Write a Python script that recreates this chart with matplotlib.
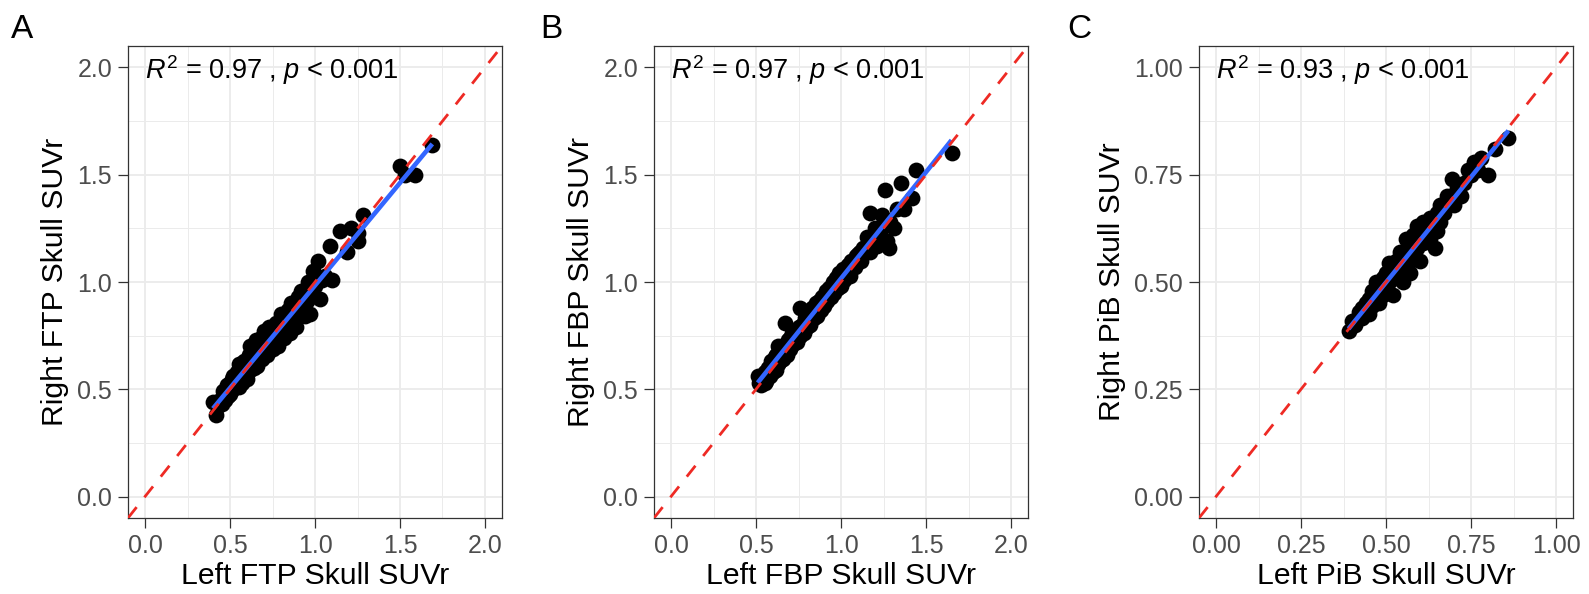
import numpy as np
import matplotlib
matplotlib.use("Agg")
import matplotlib.pyplot as plt

plt.rcParams['font.family'] = ['Liberation Sans', 'DejaVu Sans']
plt.rcParams['mathtext.fontset'] = 'custom'
plt.rcParams['mathtext.rm'] = 'Liberation Sans'
plt.rcParams['mathtext.it'] = 'Liberation Sans:italic'

# panel A: FTP
ftp_left = [0.40, 0.42, 0.43, 0.44, 0.45, 0.46, 0.47, 0.48, 0.48, 0.49, 0.50, 0.50,
            0.51, 0.52, 0.52, 0.53, 0.54, 0.55, 0.55, 0.56, 0.57, 0.57, 0.58, 0.59,
            0.60, 0.60, 0.61, 0.62, 0.62, 0.63, 0.64, 0.64, 0.65, 0.66, 0.66, 0.67,
            0.68, 0.68, 0.69, 0.70, 0.70, 0.71, 0.72, 0.72, 0.73, 0.74, 0.74, 0.75,
            0.76, 0.76, 0.77, 0.78, 0.78, 0.79, 0.80, 0.80, 0.81, 0.82, 0.82, 0.83,
            0.84, 0.85, 0.85, 0.86, 0.87, 0.88, 0.89, 0.90, 0.90, 0.91, 0.92, 0.93,
            0.94, 0.95, 0.96, 0.97, 0.98, 0.99, 1.00, 1.02, 1.03, 1.04, 1.06, 1.09,
            1.10, 1.15, 1.19, 1.21, 1.25, 1.25, 1.28, 1.50, 1.53, 1.59, 1.69,
            0.46, 0.49, 0.51, 0.53, 0.56, 0.58, 0.59, 0.61, 0.63, 0.65, 0.67, 0.69,
            0.71, 0.73, 0.75, 0.77, 0.79, 0.81, 0.83, 0.84, 0.86, 0.88, 0.89, 0.91,
            0.93, 0.95, 0.97, 0.58, 0.62, 0.66, 0.70, 0.74, 0.78, 0.82]
ftp_right = [0.44, 0.38, 0.42, 0.45, 0.43, 0.49, 0.45, 0.52, 0.47, 0.50, 0.53, 0.48,
             0.55, 0.50, 0.56, 0.52, 0.58, 0.51, 0.62, 0.55, 0.60, 0.53, 0.63, 0.57,
             0.62, 0.55, 0.66, 0.59, 0.70, 0.63, 0.68, 0.60, 0.73, 0.65, 0.61, 0.70,
             0.66, 0.74, 0.64, 0.71, 0.77, 0.68, 0.73, 0.66, 0.79, 0.71, 0.75, 0.69,
             0.78, 0.73, 0.81, 0.74, 0.70, 0.80, 0.76, 0.85, 0.79, 0.74, 0.83, 0.78,
             0.87, 0.81, 0.76, 0.90, 0.83, 0.86, 0.79, 0.93, 0.85, 0.88, 0.96, 0.90,
             0.84, 0.94, 1.00, 0.85, 0.95, 1.05, 0.98, 1.10, 0.92, 1.01, 1.03, 1.17,
             1.01, 1.24, 1.14, 1.25, 1.19, 1.23, 1.31, 1.54, 1.50, 1.50, 1.64,
             0.46, 0.47, 0.52, 0.55, 0.58, 0.60, 0.61, 0.62, 0.66, 0.68, 0.64, 0.67,
             0.72, 0.70, 0.74, 0.76, 0.77, 0.82, 0.80, 0.81, 0.85, 0.82, 0.88, 0.86,
             0.89, 0.91, 0.93, 0.59, 0.64, 0.69, 0.73, 0.76, 0.79, 0.78]

# panel B: FBP
fbp_left = [0.51, 0.52, 0.53, 0.54, 0.55, 0.56, 0.57, 0.58, 0.59, 0.60, 0.61, 0.62,
            0.62, 0.63, 0.64, 0.65, 0.66, 0.67, 0.67, 0.68, 0.69, 0.70, 0.71, 0.72,
            0.73, 0.74, 0.75, 0.76, 0.76, 0.77, 0.78, 0.79, 0.80, 0.81, 0.82, 0.83,
            0.84, 0.85, 0.86, 0.87, 0.88, 0.89, 0.90, 0.91, 0.92, 0.93, 0.94, 0.95,
            0.96, 0.97, 0.98, 0.99, 1.00, 1.01, 1.02, 1.04, 1.05, 1.06, 1.08, 1.10,
            1.12, 1.14, 1.15, 1.17, 1.17, 1.18, 1.20, 1.21, 1.23, 1.24, 1.25, 1.27,
            1.28, 1.29, 1.31, 1.26, 1.33, 1.35, 1.37, 1.42, 1.44, 1.65,
            0.53, 0.55, 0.57, 0.59, 0.61, 0.63, 0.65, 0.68, 0.70, 0.72, 0.74, 0.77,
            0.79, 0.81, 0.83, 0.85, 0.88, 0.90, 0.92, 0.94, 0.96, 0.99, 1.01, 1.03,
            1.07, 1.09, 1.11, 1.13, 1.16, 1.19, 1.22, 0.66, 0.71, 0.75, 0.86, 0.97]
fbp_right = [0.56, 0.53, 0.52, 0.55, 0.58, 0.54, 0.60, 0.56, 0.63, 0.58, 0.62, 0.66,
             0.59, 0.70, 0.63, 0.67, 0.64, 0.81, 0.70, 0.66, 0.73, 0.69, 0.76, 0.71,
             0.75, 0.72, 0.79, 0.88, 0.75, 0.80, 0.76, 0.83, 0.79, 0.86, 0.80, 0.88,
             0.83, 0.90, 0.84, 0.91, 0.87, 0.93, 0.89, 0.96, 0.91, 0.97, 0.93, 1.00,
             0.95, 1.02, 0.97, 1.04, 0.98, 1.06, 1.01, 1.08, 1.03, 1.10, 1.07, 1.13,
             1.10, 1.16, 1.21, 1.14, 1.32, 1.19, 1.25, 1.17, 1.22, 1.31, 1.26, 1.19,
             1.16, 1.28, 1.25, 1.43, 1.34, 1.46, 1.34, 1.39, 1.52, 1.60,
             0.56, 0.53, 0.57, 0.59, 0.65, 0.62, 0.70, 0.71, 0.74, 0.73, 0.77, 0.78,
             0.81, 0.82, 0.85, 0.87, 0.90, 0.92, 0.94, 0.96, 0.98, 1.01, 1.02, 1.06,
             1.09, 1.12, 1.14, 1.16, 1.18, 1.22, 1.24, 0.69, 0.72, 0.77, 0.88, 0.99]

# panel C: PiB
pib_left = [0.39, 0.40, 0.41, 0.42, 0.43, 0.43, 0.44, 0.45, 0.45, 0.46, 0.46, 0.47,
            0.47, 0.48, 0.48, 0.49, 0.49, 0.50, 0.50, 0.51, 0.51, 0.52, 0.52, 0.53,
            0.53, 0.54, 0.54, 0.55, 0.55, 0.56, 0.56, 0.57, 0.57, 0.58, 0.58, 0.59,
            0.59, 0.60, 0.60, 0.61, 0.61, 0.62, 0.63, 0.63, 0.64, 0.645, 0.65, 0.66,
            0.67, 0.68, 0.695, 0.70, 0.72, 0.74, 0.76, 0.77, 0.78, 0.80, 0.82, 0.86,
            0.42, 0.44, 0.46, 0.47, 0.48, 0.50, 0.51, 0.52, 0.53, 0.54, 0.56, 0.57,
            0.58, 0.59, 0.60, 0.61, 0.62, 0.63, 0.65, 0.66, 0.68, 0.69, 0.71, 0.73,
            0.75, 0.55, 0.49]
pib_right = [0.385, 0.41, 0.40, 0.43, 0.415, 0.44, 0.43, 0.46, 0.425, 0.445, 0.48, 0.46,
             0.50, 0.45, 0.49, 0.51, 0.47, 0.52, 0.48, 0.545, 0.50, 0.47, 0.53, 0.55,
             0.51, 0.57, 0.53, 0.50, 0.55, 0.60, 0.54, 0.57, 0.52, 0.61, 0.56, 0.63,
             0.58, 0.55, 0.62, 0.64, 0.59, 0.61, 0.65, 0.60, 0.63, 0.58, 0.62, 0.68,
             0.66, 0.70, 0.74, 0.68, 0.70, 0.76, 0.78, 0.76, 0.79, 0.75, 0.81, 0.835,
             0.42, 0.45, 0.47, 0.48, 0.47, 0.50, 0.52, 0.51, 0.53, 0.55, 0.57, 0.55,
             0.58, 0.60, 0.59, 0.61, 0.63, 0.62, 0.66, 0.64, 0.68, 0.70, 0.72, 0.73,
             0.75, 0.53, 0.49]

panels = [
    ('A', ftp_left, ftp_right, 'FTP', '0.97', [0.0, 0.5, 1.0, 1.5, 2.0], '%.1f', 128),
    ('B', fbp_left, fbp_right, 'FBP', '0.97', [0.0, 0.5, 1.0, 1.5, 2.0], '%.1f', 654),
    ('C', pib_left, pib_right, 'PiB', '0.93', [0.0, 0.25, 0.5, 0.75, 1.0], '%.2f', 1199),
]
letter_x = [11, 540, 1067]

W, H = 1589, 594
fig = plt.figure(figsize=(W / 100, H / 100), dpi=100)

for i, (letter, xl, yr, tracer, r2, ticks, fmt, left_px) in enumerate(panels):
    ax = fig.add_axes([left_px / W, 1 - 518 / H, 374 / W, 472 / H])
    x = np.array(xl)
    y = np.array(yr)
    step = ticks[1] - ticks[0]
    lo, hi = ticks[0] - step * 0.2, ticks[-1] + step * 0.2
    ax.set_xlim(lo, hi)
    ax.set_ylim(lo, hi)

    ax.scatter(x, y, s=130, color='black', linewidths=0, zorder=3)
    k, b = np.polyfit(x, y, 1)
    xs = np.array([x.min(), x.max()])
    ax.plot(xs, k * xs + b, color='#3366FF', lw=3.3, zorder=4, solid_capstyle='butt')
    ax.plot([lo, hi], [lo, hi], color='#EE2A24', lw=2.0, dashes=(5, 4.5), zorder=5)

    ax.set_xticks(ticks)
    ax.set_yticks(ticks)
    ax.set_xticklabels([fmt % t for t in ticks])
    ax.set_yticklabels([fmt % t for t in ticks])
    minor = [t + step / 2 for t in ticks[:-1]]
    ax.set_xticks(minor, minor=True)
    ax.set_yticks(minor, minor=True)
    ax.grid(True, which='major', color='#EBEBEB', lw=1.3, zorder=0)
    ax.grid(True, which='minor', color='#EBEBEB', lw=0.7, zorder=0)
    ax.set_axisbelow(True)
    ax.tick_params(which='major', length=7, width=0.9, color='#333333',
                   labelcolor='#4D4D4D', labelsize=18, pad=4.5)
    ax.tick_params(which='minor', length=0)
    for sp in ax.spines.values():
        sp.set_color('#333333')
        sp.set_linewidth(0.9)

    ax.set_xlabel('Left %s Skull SUVr' % tracer, fontsize=21.7, labelpad=3)
    ax.set_ylabel('Right %s Skull SUVr' % tracer, fontsize=21.7, labelpad=6)
    ax.text(0.046, 0.948, r'$R^2$ = %s , $p$ < 0.001' % r2, transform=ax.transAxes,
            fontsize=19.5, ha='left', va='center', color='black')

    fig.text(letter_x[i] / W, 1 - 30 / H, letter, fontsize=24, ha='left', va='center')

fig.savefig('out.png', dpi=100)
